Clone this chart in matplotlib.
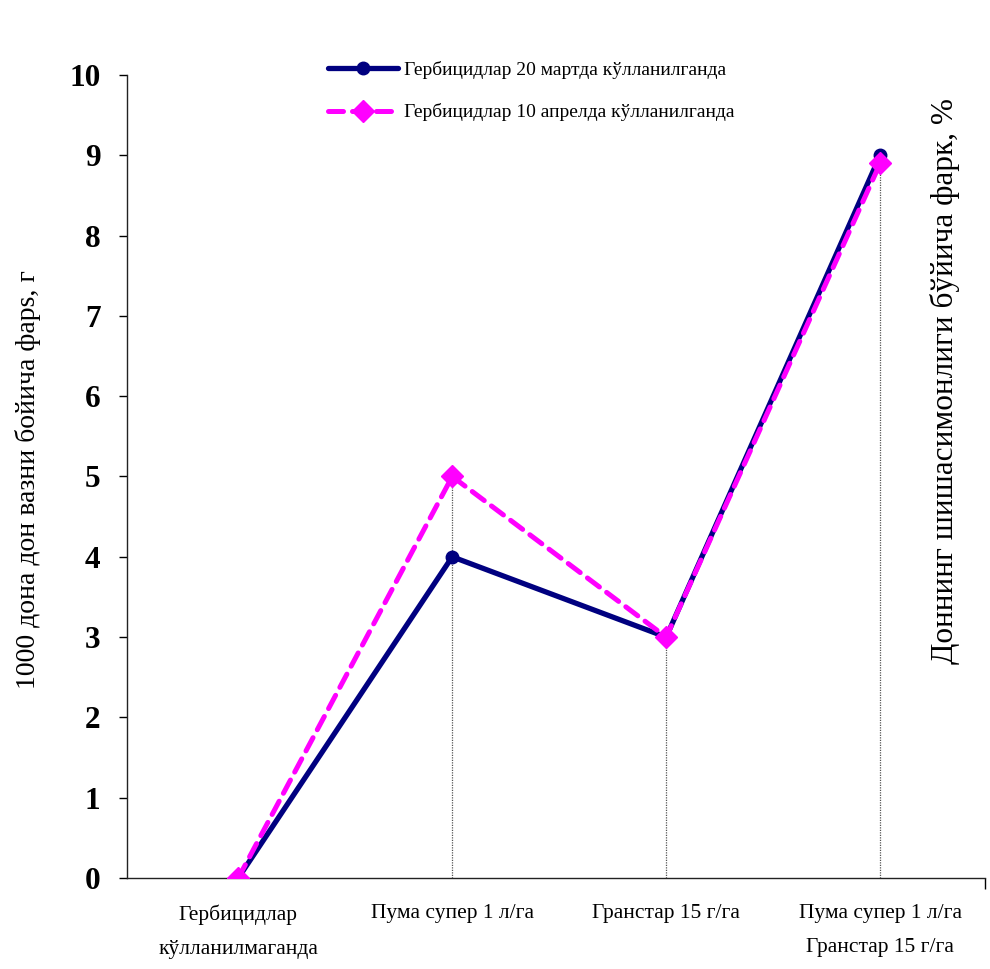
import matplotlib
matplotlib.use("Agg")
import matplotlib.pyplot as plt

plt.rcParams["font.family"] = ["Liberation Serif", "DejaVu Serif"]

# --- data ---
categories = [
    "Гербицидлар\nкўлланилмаганда",
    "Пума супер 1 л/га",
    "Гранстар 15 г/га",
    "Пума супер 1 л/га\nГранстар 15 г/га",
]
march_20 = [0, 4, 3, 9]
april_10 = [0, 5, 3, 8.9]
series_labels = [
    "Гербицидлар 20 мартда кўлланилганда",
    "Гербицидлар 10 апрелда кўлланилганда",
]
y_ticks = list(range(0, 11))

NAVY = "#000080"
MAGENTA = "#FF00FF"

fig = plt.figure(figsize=(9.9, 9.69), dpi=100)
ax = fig.add_axes([127 / 990, 1 - 878 / 969, (985 - 127) / 990, (878 - 75) / 969])

x = list(range(len(categories)))

# drop lines from the highest point down to the axis
tops = [max(a, b) for a, b in zip(march_20, april_10)]
ax.vlines(x, 0, tops, colors="#555555", linestyles=(0, (1, 1)), linewidth=0.9, zorder=1)

ax.plot(x, march_20, color=NAVY, linewidth=3.8, marker="o", markersize=9,
        label=series_labels[0], zorder=3, solid_capstyle="round")
ax.plot(x, april_10, color=MAGENTA, linewidth=3.6, marker="D", markersize=11,
        dashes=(3, 1.8), dash_capstyle="round", label=series_labels[1], zorder=4)

ax.set_xlim(-0.52, 3.49)
ax.set_ylim(0, 10)
ax.set_yticks(y_ticks)
ax.set_yticklabels([str(v) for v in y_ticks], fontsize=22.5, fontweight="bold")
ax.tick_params(axis="y", direction="out", length=6, width=1, pad=13)

ax.set_xticks(x)
ax.set_xticklabels(categories, fontsize=15.5, linespacing=2.05)
ax.tick_params(axis="x", which="major", length=0, pad=19)
ax.set_xticks([1, 2, 3, 3.49], minor=True)
ax.tick_params(axis="x", which="minor", direction="out", length=8, width=1)

for side in ("top", "right"):
    ax.spines[side].set_visible(False)
for side in ("left", "bottom"):
    ax.spines[side].set_linewidth(1)
    ax.spines[side].set_color("#222222")

fig.text(28 / 990, 1 - 480 / 969, "1000 дона дон вазни бойича фарs, г",
         rotation=90, fontsize=20, ha="center", va="center")
fig.text(945 / 990, 1 - 381 / 969, "Доннинг шишасимонлиги бўйича фарк, %",
         rotation=90, fontsize=22.5, ha="center", va="center")

ax.legend(loc="center left", bbox_to_anchor=(328 / 990, 1 - 91 / 969),
          bbox_transform=fig.transFigure, frameon=False, fontsize=14,
          handlelength=3.6, labelspacing=1.27, handletextpad=0.3,
          borderaxespad=0, borderpad=0)

fig.savefig("out.png", dpi=100)
